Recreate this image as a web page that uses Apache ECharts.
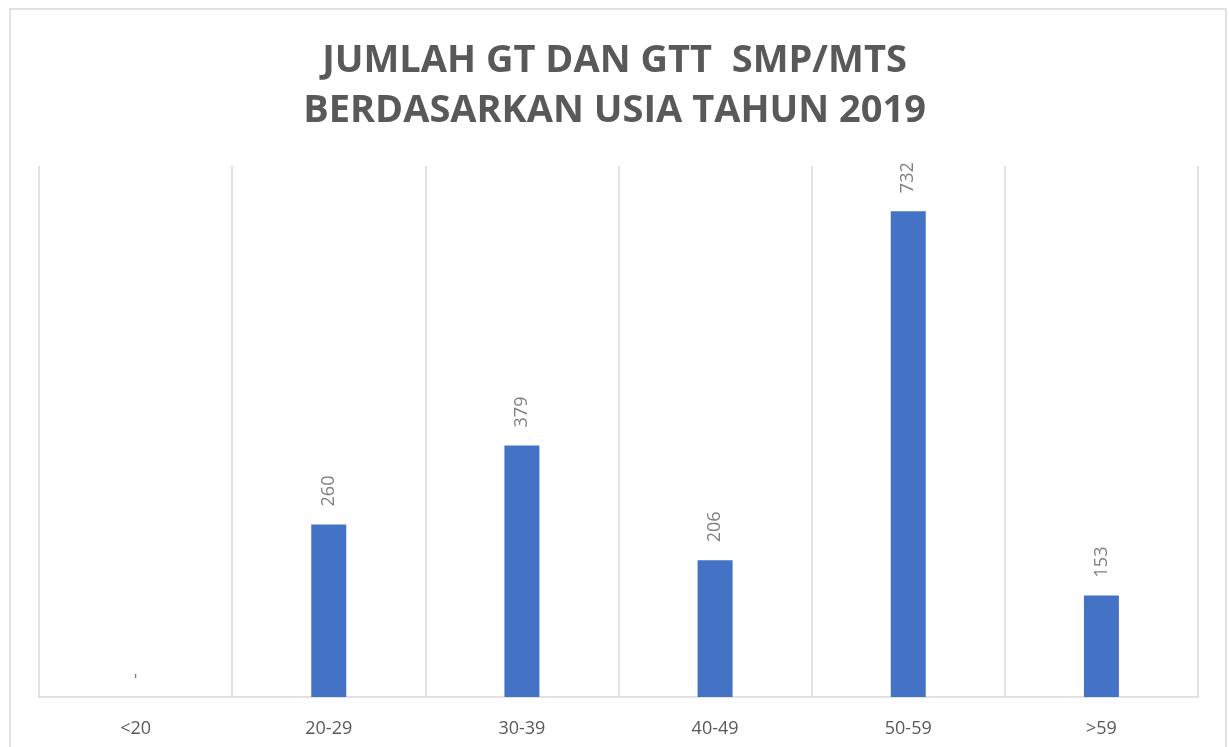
<!DOCTYPE html>
<html>
<head>
<meta charset="utf-8">
<script src="https://cdn.jsdelivr.net/npm/echarts@6/dist/echarts.min.js"></script>
<style>
  html, body { margin: 0; padding: 0; background: #fff; }
  #chart { width: 1229px; height: 747px; }
</style>
</head>
<body>
<div id="chart"></div>
<script>
// data
const categories = ['<20', '20-29', '30-39', '40-49', '50-59', '>59'];
const values = [0, 260, 379, 206, 732, 153];
const titleLines = ['JUMLAH GT DAN GTT  SMP/MTS', 'BERDASARKAN USIA TAHUN 2019'];

const chart = echarts.init(document.getElementById('chart'));
const gridColor = '#d9d9d9';

chart.setOption({
  animation: false,
  title: {
    text: titleLines.join('\n'),
    left: 'center',
    top: 31,
    textStyle: {
      fontFamily: 'Open Sans',
      fontWeight: 'bold',
      fontSize: 38,
      lineHeight: 50,
      color: '#595959'
    }
  },
  graphic: [{
    type: 'rect',
    shape: { x: 10, y: 9, width: 1216, height: 760 },
    style: { fill: 'none', stroke: gridColor, lineWidth: 1.5 },
    silent: true
  }],
  grid: { left: 39, right: 31, top: 166, bottom: 50 },
  xAxis: {
    type: 'category',
    data: categories,
    axisLine: { lineStyle: { color: gridColor, width: 1.5 } },
    axisTick: { show: false },
    splitLine: { show: true, lineStyle: { color: gridColor, width: 1.5 } },
    axisLabel: {
      fontFamily: 'Open Sans',
      fontSize: 18,
      color: '#595959',
      margin: 23
    }
  },
  yAxis: {
    type: 'value',
    min: 0,
    max: 800,
    show: false,
    splitLine: { show: false }
  },
  series: [{
    type: 'bar',
    data: values,
    barWidth: 35,
    itemStyle: { color: '#4472C4' },
    label: {
      show: true,
      position: 'top',
      distance: 18,
      rotate: 90,
      align: 'left',
      verticalAlign: 'middle',
      fontFamily: 'Open Sans',
      fontSize: 18,
      color: '#7f7f7f',
      formatter: p => (p.value === 0 ? '-' : String(p.value))
    }
  }]
});
</script>
</body>
</html>
